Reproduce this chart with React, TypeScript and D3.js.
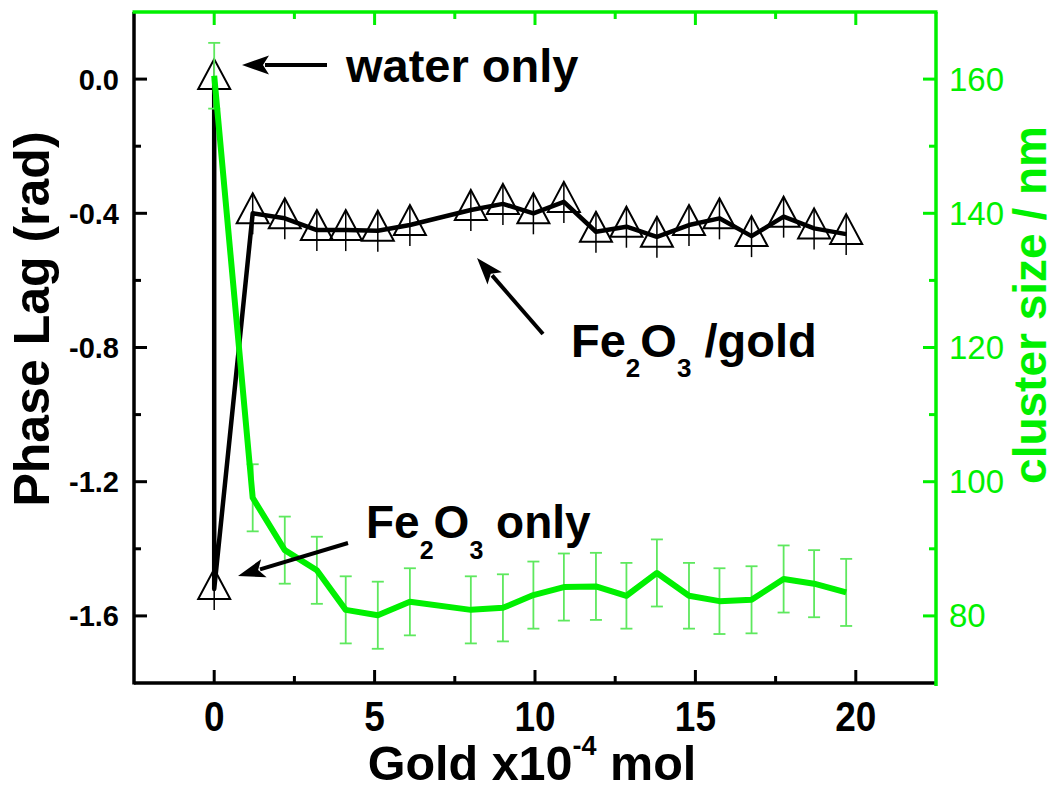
import React from "react";
import * as d3 from "d3";

// ---- data ----
const goldX = [1.2, 2.2, 3.2, 4.1, 5.1, 6.1, 8.0, 9.0, 9.95, 10.9, 11.9, 12.85, 13.8, 14.8, 15.75, 16.75, 17.75, 18.7, 19.7];
const phaseWater = 0.0;
const phaseFe2O3 = -1.52;
const phaseGold = [-0.40, -0.415, -0.45, -0.45, -0.452, -0.435, -0.39, -0.372, -0.40, -0.366, -0.455, -0.44, -0.47, -0.435, -0.415, -0.468, -0.41, -0.445, -0.462];
const clusterX = [0, ...goldX];
const clusterSize = [160.5, 97.6, 89.8, 86.8, 80.9, 80.1, 82.1, 80.9, 81.2, 83.1, 84.3, 84.4, 83.0, 86.4, 83.0, 82.2, 82.4, 85.5, 84.8, 83.5];
const clusterErr = [4.9, 5, 5, 5, 5, 5, 5, 5, 5, 5, 5, 5, 4.9, 5, 4.9, 4.9, 5, 5, 5, 5];
const xMajor = [0, 5, 10, 15, 20];
const xMinor = [2.5, 7.5, 12.5, 17.5];
const yLMajor = [0.0, -0.4, -0.8, -1.2, -1.6];
const yLMinor = [-0.2, -0.6, -1.0, -1.4];
const yRMajor = [160, 140, 120, 100, 80];
const yRMinor = [150, 130, 110, 90];

const GREEN = "#00f000";
const FONT = "'Liberation Sans', Arial, sans-serif";

export default function App() {
  const L = 134, R = 936, T = 12, B = 683;
  const x = d3.scaleLinear().domain([-2.5, 22.5]).range([L, R]);
  const yL = d3.scaleLinear().domain([-1.8, 0.2]).range([B, T]);
  const yR = d3.scaleLinear().domain([70, 170]).range([B, T]);

  const phasePts: [number, number][] = [
    [0, phaseWater],
    [0, phaseFe2O3],
    ...goldX.map((g, i) => [g, phaseGold[i]] as [number, number]),
  ];
  const phaseLine = d3.line<[number, number]>().x(d => x(d[0])).y(d => yL(d[1]));
  const clusterPts = clusterX.map((c, i) => [c, clusterSize[i]] as [number, number]);
  const clusterLine = d3.line<[number, number]>().x(d => x(d[0])).y(d => yR(d[1]));

  const tri = (cx: number, cy: number, key: string) => {
    const h = 30, w = 32;
    return (
      <g key={key}>
        <path d={`M${cx},${cy - (2 * h) / 3} L${cx + w / 2},${cy + h / 3} L${cx - w / 2},${cy + h / 3} Z`} fill="none" stroke="#000" strokeWidth={2} />
        <line x1={cx} x2={cx} y1={cy - 20} y2={cy + 21} stroke="#000" strokeWidth={1.5} />
      </g>
    );
  };

  const arrow = (x1: number, y1: number, x2: number, y2: number, key: string) => {
    const ang = Math.atan2(y2 - y1, x2 - x1);
    const hl = 27, hw = 9.5;
    const bx = x2 - hl * Math.cos(ang), by = y2 - hl * Math.sin(ang);
    const px = -Math.sin(ang) * hw, py = Math.cos(ang) * hw;
    return (
      <g key={key}>
        <line x1={x1} y1={y1} x2={bx + 4 * Math.cos(ang)} y2={by + 4 * Math.sin(ang)} stroke="#000" strokeWidth={4} />
        <path d={`M${x2},${y2} L${bx + px},${by + py} L${bx + 6 * Math.cos(ang)},${by + 6 * Math.sin(ang)} L${bx - px},${by - py} Z`} fill="#000" />
      </g>
    );
  };

  return (
    <svg width={1055} height={791} style={{ position: "absolute", left: 0, top: 0, background: "#fff" }} fontFamily={FONT}>
      <rect x={0} y={0} width={1055} height={791} fill="#fff" />

      {/* black series */}
      <path d={phaseLine(phasePts) || ""} fill="none" stroke="#000" strokeWidth={4.5} strokeLinejoin="round" />
      {phasePts.map((p, i) => tri(x(p[0]), yL(p[1]), "t" + i))}

      {/* green error bars */}
      {clusterPts.map((p, i) => {
        const cx = x(p[0]);
        const y1 = yR(p[1] + clusterErr[i]);
        const y2 = yR(p[1] - clusterErr[i]);
        return (
          <g key={"e" + i} stroke="#5ee85e" strokeWidth={1.8}>
            <line x1={cx} x2={cx} y1={y1} y2={y2} />
            <line x1={cx - 6} x2={cx + 6} y1={y1} y2={y1} />
            <line x1={cx - 6} x2={cx + 6} y1={y2} y2={y2} />
          </g>
        );
      })}
      <path d={clusterLine(clusterPts) || ""} fill="none" stroke={GREEN} strokeWidth={6} strokeLinejoin="round" />

      {/* axes */}
      <line x1={L} x2={L} y1={T} y2={B + 1.5} stroke="#000" strokeWidth={3.5} />
      <line x1={L} x2={R} y1={B} y2={B} stroke="#000" strokeWidth={3.5} />
      <line x1={L - 1.5} x2={R + 1.5} y1={T} y2={T} stroke={GREEN} strokeWidth={3.5} />
      <line x1={R} x2={R} y1={T} y2={B + 3} stroke={GREEN} strokeWidth={3.5} />

      {xMajor.map(v => (
        <g key={"xm" + v}>
          <line x1={x(v)} x2={x(v)} y1={B} y2={B - 13} stroke="#000" strokeWidth={3} />
          <line x1={x(v)} x2={x(v)} y1={T} y2={T + 13} stroke={GREEN} strokeWidth={3} />
          <text transform={`translate(${x(v)},731) scale(0.86,1)`} fontSize={43} fontWeight="bold" textAnchor="middle" fill="#000">{v}</text>
        </g>
      ))}
      {xMinor.map(v => (
        <g key={"xn" + v}>
          <line x1={x(v)} x2={x(v)} y1={B} y2={B - 7} stroke="#000" strokeWidth={3} />
          <line x1={x(v)} x2={x(v)} y1={T} y2={T + 7} stroke={GREEN} strokeWidth={3} />
        </g>
      ))}
      {yLMajor.map(v => (
        <g key={"lm" + v}>
          <line x1={L} x2={L + 13} y1={yL(v)} y2={yL(v)} stroke="#000" strokeWidth={3} />
          <text x={119} y={yL(v) + 10.5} fontSize={29} fontWeight="bold" textAnchor="end" fill="#000">{v.toFixed(1)}</text>
        </g>
      ))}
      {yLMinor.map(v => (
        <line key={"ln" + v} x1={L} x2={L + 7} y1={yL(v)} y2={yL(v)} stroke="#000" strokeWidth={3} />
      ))}
      {yRMajor.map(v => (
        <g key={"rm" + v}>
          <line x1={R} x2={R - 13} y1={yR(v)} y2={yR(v)} stroke={GREEN} strokeWidth={3} />
          <text x={949} y={yR(v) + 11.5} fontSize={33} textAnchor="start" fill={GREEN}>{v}</text>
        </g>
      ))}
      {yRMinor.map(v => (
        <line key={"rn" + v} x1={R} x2={R - 7} y1={yR(v)} y2={yR(v)} stroke={GREEN} strokeWidth={3} />
      ))}

      {/* axis titles */}
      <text x={532} y={780} fontSize={48.5} fontWeight="bold" textAnchor="middle" fill="#000">
        Gold x10<tspan fontSize={27} dy={-25}>-4</tspan><tspan dy={25}> mol</tspan>
      </text>
      <text transform="translate(49,319) rotate(-90)" fontSize={50} fontWeight="bold" textAnchor="middle" fill="#000">Phase Lag (rad)</text>
      <text transform="translate(1046,305) rotate(-90)" fontSize={46} fontWeight="bold" textAnchor="middle" fill={GREEN}>cluster size / nm</text>

      {/* annotations */}
      {arrow(327, 65, 242, 65, "a1")}
      <text x={346} y={82} fontSize={47} fontWeight="bold" fill="#000">water only</text>

      {arrow(348, 543, 238, 576, "a2")}
      <text x={366} y={538} fontSize={46} fontWeight="bold" fill="#000">
        Fe<tspan fontSize={25} dy={21}>2</tspan><tspan dy={-21}>O</tspan><tspan fontSize={25} dy={21}>3</tspan><tspan dy={-21}> only</tspan>
      </text>

      {arrow(543, 334, 477, 258, "a3")}
      <text x={571} y={357} fontSize={47} fontWeight="bold" fill="#000">
        Fe<tspan fontSize={26} dy={20}>2</tspan><tspan dy={-20}>O</tspan><tspan fontSize={26} dy={20}>3</tspan><tspan dy={-20}> /gold</tspan>
      </text>
    </svg>
  );
}
